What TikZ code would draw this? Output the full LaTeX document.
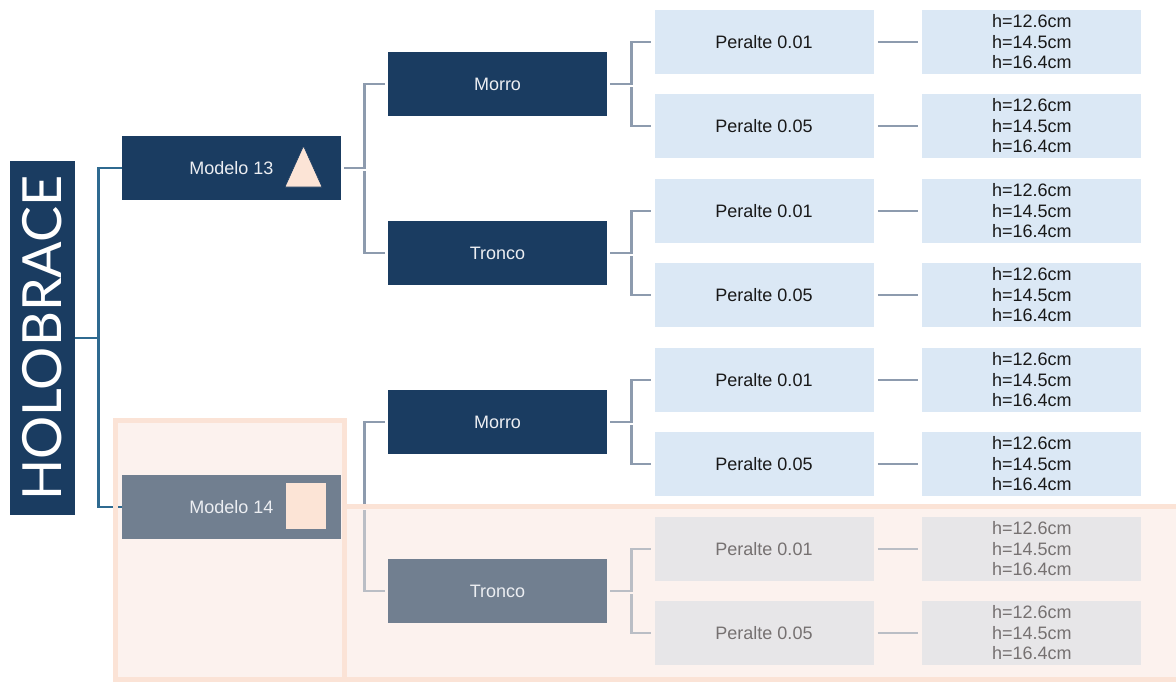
\documentclass[tikz,border=0pt]{standalone}
\usepackage{fontspec}
\setmainfont{Liberation Sans}
\newfontfamily\titlefont{Lato}
\usetikzlibrary{positioning}
\definecolor{navy}{RGB}{26,60,97}
\definecolor{slate}{RGB}{113,127,144}
\definecolor{iceblue}{RGB}{219,232,245}
\definecolor{mist}{RGB}{231,230,232}
\definecolor{peach}{RGB}{252,228,214}
\definecolor{peachrim}{RGB}{251,227,214}
\definecolor{peachfill}{RGB}{252,242,238}
\definecolor{rootline}{RGB}{47,106,144}
\definecolor{treeline}{RGB}{141,155,174}
\definecolor{paleline}{RGB}{186,190,197}
\definecolor{paletext}{RGB}{118,113,113}
\definecolor{lighttext}{RGB}{236,238,242}

\begin{document}
\begin{tikzpicture}[x=0.5pt, y=-0.5pt, font=\fontsize{9}{10.25}\selectfont, node distance=24pt,
  box/.style={rectangle, inner sep=0pt, minimum width=109.5pt, minimum height=32pt, align=center},
  navybox/.style={box, fill=navy, text=lighttext, font=\fontsize{9}{10}\selectfont},
  slatebox/.style={box, fill=slate, text=lighttext, font=\fontsize{9}{10}\selectfont},
  icebox/.style={box, fill=iceblue, text=black!90},
  mistbox/.style={box, fill=mist, text=paletext},
  tree/.style={draw=treeline, line width=1.2pt, shorten <=1.5pt, shorten >=1.5pt},
  paletree/.style={tree, draw=paleline}]
  \useasboundingbox (0,0) rectangle (1176,681);

  % highlighted part (Modelo 14, Tronco)
  \fill[peachfill] (115,420) rectangle (344,679);
  \fill[peachfill] (344,506.5) rectangle (1180,679);

  % root
  \node[rectangle, fill=navy, text=white, rotate=90, inner sep=0pt, minimum width=177pt, minimum height=32.5pt, font=\titlefont\fontsize{27}{28}\selectfont] (holo) at (42.5,338) {HOLOBRACE};

  % models
  \node[navybox] (m13) at (231.5,168) {Modelo 13};
  \node[slatebox] (m14) at (231.5,507) {Modelo 14};
  \fill[peach, draw=navy, line width=0.3pt] (285,187) -- (303.5,146) -- (322,187) -- cycle;
  \fill[peach] (286,483) rectangle (326,529);

  % zones
  \node[navybox] (mo1) at (497.5,84) {Morro};
  \node[navybox] (tr1) at (497.5,253) {Tronco};
  \node[navybox] (mo2) at (497.5,422) {Morro};
  \node[slatebox] (tr2) at (497.5,591) {Tronco};

  % peralte
  \node[icebox] (p1) at (764,42) {Peralte 0.01};
  \node[icebox] (p2) at (764,126) {Peralte 0.05};
  \node[icebox] (p3) at (764,211) {Peralte 0.01};
  \node[icebox] (p4) at (764,295) {Peralte 0.05};
  \node[icebox] (p5) at (764,380) {Peralte 0.01};
  \node[icebox] (p6) at (764,464) {Peralte 0.05};
  \node[mistbox] (p7) at (764,549) {Peralte 0.01};
  \node[mistbox] (p8) at (764,633) {Peralte 0.05};

  % heights
  \node[icebox, right=of p1] (h1) {h=12.6cm\\h=14.5cm\\h=16.4cm};
  \node[icebox, right=of p2] (h2) {h=12.6cm\\h=14.5cm\\h=16.4cm};
  \node[icebox, right=of p3] (h3) {h=12.6cm\\h=14.5cm\\h=16.4cm};
  \node[icebox, right=of p4] (h4) {h=12.6cm\\h=14.5cm\\h=16.4cm};
  \node[icebox, right=of p5] (h5) {h=12.6cm\\h=14.5cm\\h=16.4cm};
  \node[icebox, right=of p6] (h6) {h=12.6cm\\h=14.5cm\\h=16.4cm};
  \node[mistbox, right=of p7] (h7) {h=12.6cm\\h=14.5cm\\h=16.4cm};
  \node[mistbox, right=of p8] (h8) {h=12.6cm\\h=14.5cm\\h=16.4cm};

  % connectors
  \draw[draw=rootline, line width=1.2pt] (holo.south) -- ++(23,0) coordinate (j0) |- (m13.west);
  \draw[draw=rootline, line width=1.2pt] (j0) |- (m14.west);

  \draw[tree] (m13.east) -- ++(23,0) coordinate (j13) |- (mo1.west);
  \draw[tree] (j13) |- (tr1.west);
  \draw[paletree] (m14.east) -- ++(23,0) coordinate (j14);
  \draw[tree] (j14) |- (mo2.west);
  \draw[paletree] (j14) |- (tr2.west);

  \draw[tree] (mo1.east) -- ++(24,0) coordinate (k1) |- (p1.west);
  \draw[tree] (k1) |- (p2.west);
  \draw[tree] (tr1.east) -- ++(24,0) coordinate (k2) |- (p3.west);
  \draw[tree] (k2) |- (p4.west);
  \draw[tree] (mo2.east) -- ++(24,0) coordinate (k3) |- (p5.west);
  \draw[tree] (k3) |- (p6.west);
  \draw[paletree] (tr2.east) -- ++(24,0) coordinate (k4) |- (p7.west);
  \draw[paletree] (k4) |- (p8.west);

  \draw[tree, shorten <=2pt, shorten >=2pt] (p1) -- (h1);
  \draw[tree, shorten <=2pt, shorten >=2pt] (p2) -- (h2);
  \draw[tree, shorten <=2pt, shorten >=2pt] (p3) -- (h3);
  \draw[tree, shorten <=2pt, shorten >=2pt] (p4) -- (h4);
  \draw[tree, shorten <=2pt, shorten >=2pt] (p5) -- (h5);
  \draw[tree, shorten <=2pt, shorten >=2pt] (p6) -- (h6);
  \draw[paletree, shorten <=2pt, shorten >=2pt] (p7) -- (h7);
  \draw[paletree, shorten <=2pt, shorten >=2pt] (p8) -- (h8);

  % highlight rims
  \draw[peachrim, line width=2.5pt] (115,420) rectangle (344,679);
  \draw[peachrim, line width=2.5pt] (344,506.5) rectangle (1180,679);
\end{tikzpicture}
\end{document}
